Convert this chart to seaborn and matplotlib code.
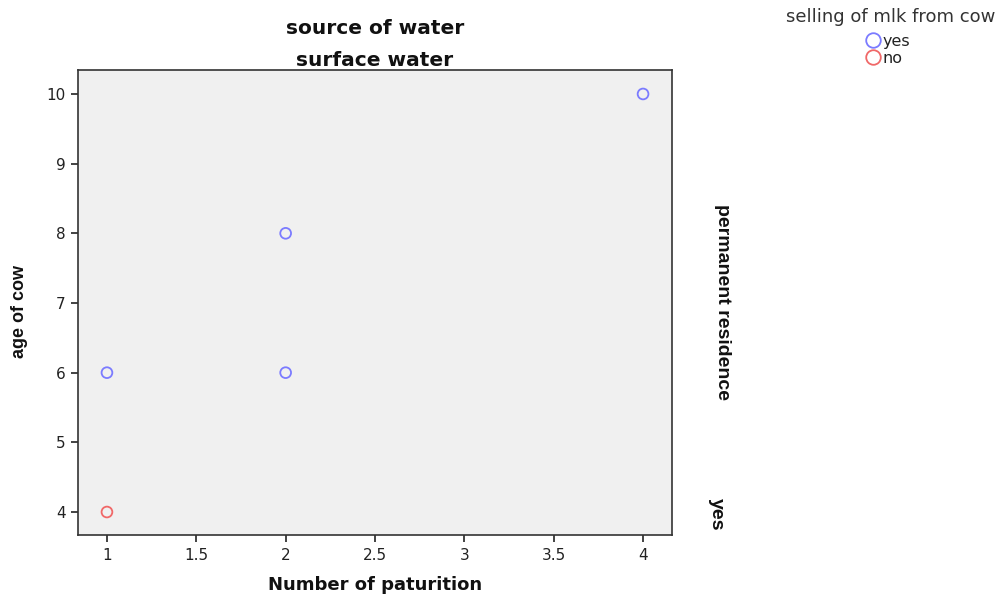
import matplotlib
matplotlib.use("Agg")
import matplotlib.pyplot as plt
import seaborn as sns
import pandas as pd
from matplotlib.lines import Line2D

# data
paturition = [1, 2, 2, 4, 1]
age_of_cow = [6, 8, 6, 10, 4]
selling = ["yes", "yes", "yes", "yes", "no"]
categories = ["yes", "no"]
colors = {"yes": "#7b7bff", "no": "#f06868"}
x_ticks = [1, 1.5, 2, 2.5, 3, 3.5, 4]
x_tick_labels = ["1", "1.5", "2", "2.5", "3", "3.5", "4"]
y_ticks = [4, 5, 6, 7, 8, 9, 10]

df = pd.DataFrame({"Number of paturition": paturition,
                   "age of cow": age_of_cow,
                   "selling": selling})

sns.set_theme(style="white")
plt.rcParams['font.family'] = ['DejaVu Sans']

fig = plt.figure(figsize=(10.07, 5.95), dpi=100)
ax = fig.add_axes([78/1007, 60/595, (672-78)/1007, (535-70)/595])
ax.set_facecolor("#f0f0f0")

for cat in categories:
    sub = df[df["selling"] == cat]
    sns.scatterplot(data=sub, x="Number of paturition", y="age of cow",
                    color=colors[cat], marker="o", s=60, linewidth=1.3,
                    ax=ax, legend=False, zorder=3)
    coll = ax.collections[-1]
    coll.set_edgecolors(colors[cat])
    coll.set_facecolors("none")

ax.set_xlim(0.838, 4.162)
ax.set_ylim(3.67, 10.344)
ax.set_xticks(x_ticks)
ax.set_xticklabels(x_tick_labels)
ax.set_yticks(y_ticks)
ax.tick_params(axis="both", which="both", direction="out", length=5, width=1.2,
               colors="#222222", labelsize=11, labelcolor="#222222", pad=4,
               left=True, bottom=True)
for sp in ax.spines.values():
    sp.set_color("#333333")
    sp.set_linewidth(1.2)

ax.set_xlabel("")
ax.set_ylabel("")
fig.text(375/1007, 1 - 585/595, "Number of paturition", ha="center", va="center",
         fontsize=13, fontweight="bold", color="#111111")
narrow = ["Liberation Sans", "DejaVu Sans"]
fig.text(20/1007, 1 - 311/595, "age of cow", rotation=90, ha="center", va="center",
         fontsize=13, fontweight="bold", family=narrow, color="#111111")

fig.text(375/1007, 1 - 29/595, "source of water", ha="center", va="center",
         fontsize=14.5, fontweight="bold", color="#111111")
fig.text(375/1007, 1 - 61/595, "surface water", ha="center", va="center",
         fontsize=14.5, fontweight="bold", color="#111111")

fig.text(722/1007, 1 - 302/595, "permanent residence", rotation=270, ha="center",
         va="center", fontsize=14, fontweight="bold", family=narrow, color="#111111")
fig.text(716/1007, 1 - 514/595, "yes", rotation=270, ha="center",
         va="center", fontsize=14, fontweight="bold", family=narrow, color="#111111")

# legend
fig.text(891/1007, 1 - 17/595, "selling of mlk from cow", ha="center", va="center",
         fontsize=13, color="#333333")
handles = [Line2D([0], [0], marker="o", linestyle="none", markersize=10.5,
                  markerfacecolor="none", markeredgecolor=colors[c],
                  markeredgewidth=1.3) for c in categories]
leg = fig.legend(handles, categories, loc="upper left",
                 bbox_to_anchor=(866/1007, 1 - 34/595), frameon=False,
                 fontsize=11.5, handlelength=0.9, handletextpad=0.15,
                 labelspacing=0.12, borderpad=0, borderaxespad=0)
for t in leg.get_texts():
    t.set_color("#222222")

fig.savefig("out.png", dpi=100)
